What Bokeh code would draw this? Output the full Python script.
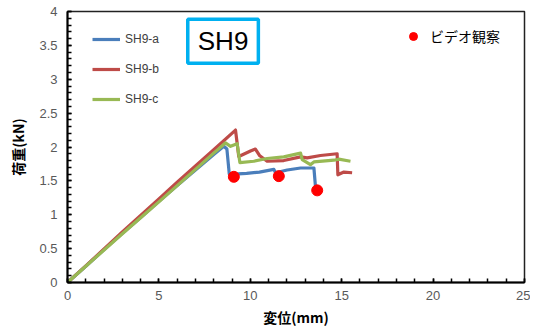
from bokeh.plotting import figure
from bokeh.models import Legend, LegendItem, Label, FixedTicker, Range1d
from bokeh.embed import file_html
from bokeh.resources import INLINE

# ---- data ----
a_x = [0, 1, 2, 3, 4, 5, 6, 7, 8, 8.55, 8.72, 8.85, 9.10, 9.8, 10.5, 11.29, 11.38, 12.02, 12.75, 13.48, 13.57]
a_y = [0, 0.24, 0.485, 0.725, 0.96, 1.2, 1.43, 1.66, 1.89, 2.01, 1.97, 1.60, 1.60, 1.61, 1.63, 1.67, 1.62, 1.66, 1.69, 1.69, 1.40]

b_x = [0, 1, 2, 3, 4, 5, 6, 7, 8, 9.19, 9.37, 10.01, 10.28, 10.52, 10.92, 11.83, 12.75, 13.11, 13.84, 14.75, 14.79, 15.12, 15.57]
b_y = [0, 0.245, 0.495, 0.745, 0.99, 1.235, 1.48, 1.72, 1.96, 2.25, 1.86, 1.94, 1.97, 1.87, 1.79, 1.80, 1.855, 1.84, 1.875, 1.90, 1.59, 1.63, 1.62]

c_x = [0, 1, 2, 3, 4, 5, 6, 7, 8, 8.64, 8.92, 9.10, 9.28, 9.43, 10.19, 10.92, 11.83, 12.75, 12.84, 13.29, 13.48, 14.57, 14.84, 15.48]
c_y = [0, 0.24, 0.48, 0.72, 0.955, 1.19, 1.43, 1.67, 1.91, 2.06, 2.01, 2.03, 2.05, 1.77, 1.79, 1.83, 1.855, 1.91, 1.815, 1.74, 1.78, 1.805, 1.82, 1.79]

obs_x = [9.10, 11.56, 13.66]
obs_y = [1.56, 1.57, 1.36]

x_ticks = [0, 5, 10, 15, 20, 25]
y_ticks = [0, 0.5, 1, 1.5, 2, 2.5, 3, 3.5, 4]
y_tick_labels = ["0", "0.5", "1", "1.5", "2", "2.5", "3", "3.5", "4"]

series_names = ["SH9-a", "SH9-b", "SH9-c"]
series_colors = ["#4A7EBB", "#BE4B48", "#98B954"]

JP = "Noto Sans CJK JP"
LAT = "Liberation Sans"

p = figure(width=530, height=331, output_backend="svg", toolbar_location=None,
           x_range=Range1d(0, 25), y_range=Range1d(0, 4),
           min_border_left=67, min_border_right=6, min_border_top=11, min_border_bottom=49)

p.xgrid.visible = False
p.ygrid.visible = False
p.outline_line_color = "#222222"
p.outline_line_width = 1.5
p.background_fill_color = "white"
p.border_fill_color = "white"

renderers = []
for xs, ys, col in zip([a_x, b_x, c_x], [a_y, b_y, c_y], series_colors):
    r = p.line(xs, ys, line_color=col, line_width=3.2, line_join="round")
    renderers.append(r)
dots = p.scatter(obs_x, obs_y, size=11, fill_color="#FF0000", line_color="#FF0000")

# axes
p.xaxis.ticker = FixedTicker(ticks=x_ticks, minor_ticks=list(range(0, 26)))
p.yaxis.ticker = FixedTicker(ticks=y_ticks, minor_ticks=[i / 10 for i in range(0, 41)])
p.yaxis.major_label_overrides = {t: l for t, l in zip(y_ticks, y_tick_labels)}
for ax in (p.xaxis[0], p.yaxis[0]):
    ax.axis_line_color = "black"
    ax.axis_line_width = 2
    ax.major_tick_in = 4
    ax.major_tick_out = 0
    ax.minor_tick_in = 4
    ax.minor_tick_out = 0
    ax.major_tick_line_color = "black"
    ax.minor_tick_line_color = "black"
    ax.major_tick_line_width = 1.5
    ax.minor_tick_line_width = 1.5
    ax.major_label_text_font = LAT
    ax.major_label_text_font_size = "13px"
    ax.major_label_text_color = "#595959"
    ax.axis_label_text_font = JP
    ax.axis_label_text_font_size = "14px"
    ax.axis_label_text_font_style = "bold"
    ax.axis_label_text_color = "black"
p.xaxis.axis_label = "変位(mm)"
p.yaxis.axis_label = "荷重(kN)"
p.xaxis.major_label_standoff = 8
p.yaxis.major_label_standoff = 10
p.xaxis.axis_label_standoff = 4
p.yaxis.axis_label_standoff = 8

# legends
leg1 = Legend(items=[LegendItem(label=n, renderers=[r]) for n, r in zip(series_names, renderers)],
              location=(25, 173), orientation="vertical",
              glyph_width=28, glyph_height=20, label_height=20, spacing=10,
              label_standoff=5, padding=0, margin=0,
              border_line_color=None, background_fill_alpha=0,
              label_text_font=LAT, label_text_font_size="12px", label_text_color="#404040")
p.add_layout(leg1)

leg2 = Legend(items=[LegendItem(label="ビデオ観察", renderers=[dots])],
              location=(336, 236), glyph_width=20, glyph_height=20, label_height=20,
              label_standoff=7, padding=0, margin=0,
              border_line_color=None, background_fill_alpha=0,
              label_text_font=JP, label_text_font_size="14px", label_text_color="black")
p.add_layout(leg2)

title_box = Label(x=8.51, y=3.56, text="SH9", text_align="center", text_baseline="middle",
                  text_font=LAT, text_font_size="26px", text_color="black",
                  border_line_color="#00B0F0", border_line_width=3.5,
                  background_fill_color="white", padding=(10, 7))
p.add_layout(title_box)

open("out.html", "w").write(file_html(p, INLINE))
